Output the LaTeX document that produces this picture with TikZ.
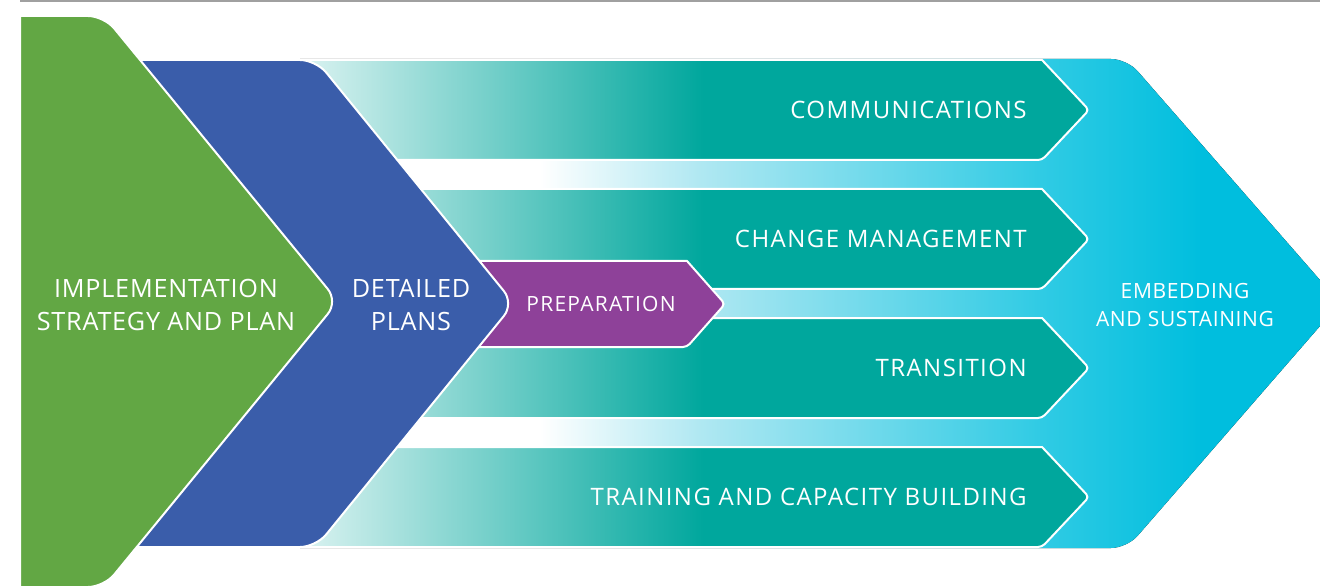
\documentclass[tikz,border=0pt]{standalone}
\usepackage{fontspec}
\setmainfont{Open Sans}
\newfontfamily\widefont[LetterSpace=3]{Open Sans}
\newfontfamily\trackfont[LetterSpace=6]{Open Sans}
\definecolor{implgreen}{HTML}{62A744}
\definecolor{planblue}{HTML}{3A5DAA}
\definecolor{preppurple}{HTML}{8E4199}
\definecolor{barteal}{HTML}{00A79D}
\definecolor{barlight}{HTML}{D6F1EF}
\definecolor{embedpale}{HTML}{B0E8F2}
\definecolor{embedmid}{HTML}{30CBE4}
\definecolor{embedcyan}{HTML}{00BEDE}
\definecolor{rulegray}{HTML}{A0A0A0}
\pgfdeclarehorizontalshading{barfade}{100bp}{color(0bp)=(barlight); color(28.6bp)=(barlight); color(52bp)=(barteal); color(100bp)=(barteal)}
\pgfdeclarehorizontalshading{embedfade}{100bp}{color(0bp)=(white); color(36.5bp)=(white); color(44.2bp)=(embedpale); color(60.6bp)=(embedmid); color(68.3bp)=(embedcyan); color(100bp)=(embedcyan)}
\tikzset{
  outline/.style={draw=white, line width=1pt},
  bigtext/.style={text=white, align=center, font=\widefont\fontsize{12.6}{16.5}\selectfont},
  bartext/.style={text=white, anchor=east, inner sep=0pt, font=\trackfont\fontsize{12}{14}\selectfont},
}
\begin{document}
\begin{tikzpicture}[x=0.5pt, y=-0.5pt]
  \useasboundingbox (0,0) rectangle (1320,587);
  \clip (0,0) rectangle (1320,587);
  \draw [rulegray, line width=1pt] (20,1) -- (1320,1);
  \fill [shading=embedfade] (300,59) [rounded corners=8pt] -- (1127,59) -- (1340,303) -- (1127,548) [sharp corners] -- (300,548) -- cycle;
  \foreach \yt/\txt [count=\i] in {60/COMMUNICATIONS, 189/CHANGE MANAGEMENT, 318/TRANSITION, 447/TRAINING AND CAPACITY BUILDING} {
    \filldraw [outline, shading=barfade] (250,\yt) -- (1042,\yt) [rounded corners=2pt] -- (1089,\yt+50) -- (1042,\yt+100) [sharp corners] -- (250,\yt+100) -- cycle;
    \node [bartext] (bar\i) at (1027,\yt+50) {\txt};
  }
  \filldraw [outline, fill=preppurple] (470,261) -- (687,261) [rounded corners=2pt] -- (725,304) -- (687,347) [sharp corners] -- (470,347) -- cycle;
  \filldraw [outline, fill=planblue] (100,60) [rounded corners=8pt] -- (316,60) -- (514,303.5) -- (316,547) [sharp corners] -- (100,547) -- cycle;
  \filldraw [outline, fill=implgreen] (20,16) [rounded corners=8pt] -- (104,16) -- (338,301.5) -- (104,587) [sharp corners] -- (20,587) -- cycle;
  \node [bigtext] (impl) at (166,305) {IMPLEMENTATION\\STRATEGY AND PLAN};
  \node [bigtext] (detail) at (411,305) {DETAILED\\PLANS};
  \node [text=white, font=\trackfont\fontsize{10.5}{12}\selectfont] (prep) at (601,304) {PREPARATION};
  \node [text=white, align=center, font=\widefont\fontsize{10.5}{14}\selectfont] (embed) at (1185,305) {EMBEDDING\\AND SUSTAINING};
\end{tikzpicture}
\end{document}
